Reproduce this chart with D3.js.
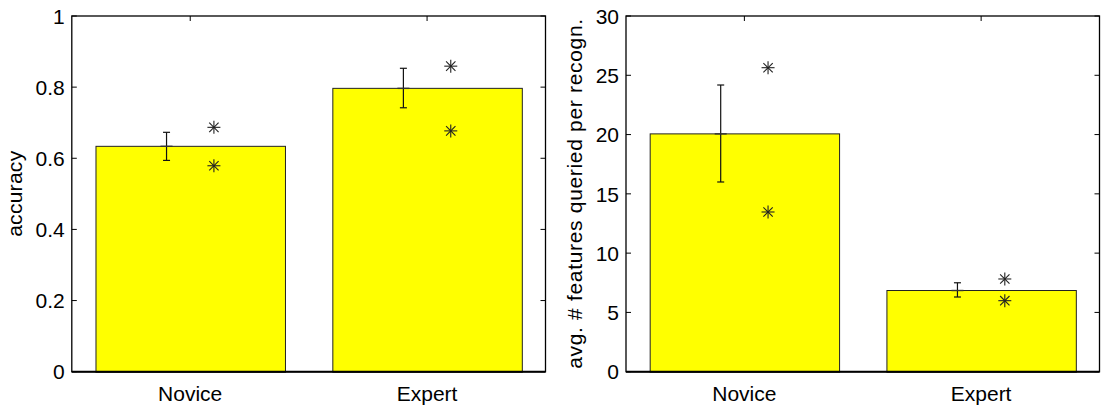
<!DOCTYPE html>
<html>
<head>
<meta charset="utf-8">
<script src="https://cdn.jsdelivr.net/npm/d3@7"></script>
<style>
html,body{margin:0;padding:0;background:#fff;}
svg{display:block;}
text{font-family:"Liberation Sans",Arial,Helvetica,sans-serif;fill:#000;}
</style>
</head>
<body>
<svg id="chart" width="1101" height="405"></svg>
<script>
// ---- data ----
const categories = ["Novice", "Expert"];

const accuracyMean    = [0.635, 0.798];
const accuracyErrLow  = [0.594, 0.742];
const accuracyErrHigh = [0.673, 0.853];
const accuracySubjA   = [0.687, 0.859];
const accuracySubjB   = [0.579, 0.677];
const accuracyTicks   = [0, 0.2, 0.4, 0.6, 0.8, 1];
const accuracyTickLabels = ["0", "0.2", "0.4", "0.6", "0.8", "1"];

const featuresMean    = [20.1, 6.89];
const featuresErrLow  = [16.0, 6.3];
const featuresErrHigh = [24.18, 7.5];
const featuresSubjA   = [25.64, 7.82];
const featuresSubjB   = [13.47, 5.99];
const featuresTicks   = [0, 5, 10, 15, 20, 25, 30];
const featuresTickLabels = ["0", "5", "10", "15", "20", "25", "30"];

// ---- drawing ----
const svg = d3.select("#chart");
const FONT = 21;

function panel(opt) {
  const g = svg.append("g");
  const x = d3.scaleLinear().domain([0.5, categories.length + 0.5]).range([opt.left, opt.right]);
  const y = d3.scaleLinear().domain(opt.yDomain).range([opt.bottom, opt.top]);
  const tickLen = 5;
  const unit = x(2) - x(1);

  // bottom x ticks (covered by bars)
  categories.forEach((c, i) => {
    g.append("line").attr("x1", x(i + 1)).attr("x2", x(i + 1))
      .attr("y1", opt.bottom).attr("y2", opt.bottom - tickLen)
      .attr("stroke", "#000").attr("stroke-width", 1);
  });

  // bars
  g.selectAll("rect.bar").data(opt.mean).enter().append("rect")
    .attr("class", "bar")
    .attr("x", (d, i) => x(i + 1 - 0.4) + 0.5)
    .attr("width", 0.8 * unit)
    .attr("y", d => y(d) + 0.5)
    .attr("height", d => y(0) - y(d))
    .attr("fill", "#ffff00")
    .attr("stroke", "#222")
    .attr("stroke-width", 1);

  // error bars
  opt.mean.forEach((m, i) => {
    const cx = x(i + 1 - 0.1);
    const lo = y(opt.errLow[i]), hi = y(opt.errHigh[i]), my = y(m);
    g.append("line").attr("x1", cx).attr("x2", cx).attr("y1", lo).attr("y2", hi)
      .attr("stroke", "#111").attr("stroke-width", 1.2);
    [lo, hi].forEach(v => g.append("line").attr("x1", cx - 3.5).attr("x2", cx + 3.5)
      .attr("y1", v).attr("y2", v).attr("stroke", "#111").attr("stroke-width", 1.2));
    g.append("line").attr("x1", cx - 6).attr("x2", cx + 6).attr("y1", my + 0.5).attr("y2", my + 0.5)
      .attr("stroke", "#333").attr("stroke-width", 1.4);
  });

  // asterisk markers
  const r = 6.5;
  function star(px, py) {
    const s = g.append("g").attr("transform", `translate(${px},${py})`);
    s.append("line").attr("x1", 0).attr("x2", 0).attr("y1", -r).attr("y2", r);
    s.append("line").attr("x1", -r).attr("x2", r).attr("y1", 0).attr("y2", 0);
    const d = r * 0.72;
    s.append("line").attr("x1", -d).attr("x2", d).attr("y1", -d).attr("y2", d);
    s.append("line").attr("x1", -d).attr("x2", d).attr("y1", d).attr("y2", -d);
    s.selectAll("line").attr("stroke", "#222").attr("stroke-width", 1.1);
  }
  opt.subjA.forEach((v, i) => star(x(i + 1 + 0.1), y(v)));
  opt.subjB.forEach((v, i) => star(x(i + 1 + 0.1), y(v)));

  // box
  g.append("rect").attr("x", opt.left).attr("y", opt.top)
    .attr("width", opt.right - opt.left).attr("height", opt.bottom - opt.top)
    .attr("fill", "none").attr("stroke", "#000").attr("stroke-width", 1.3);
  g.append("line").attr("x1", opt.left).attr("x2", opt.right)
    .attr("y1", opt.bottom).attr("y2", opt.bottom).attr("stroke", "#000").attr("stroke-width", 2);

  // y ticks both sides
  opt.ticks.forEach((t, i) => {
    const ty = y(t);
    g.append("line").attr("x1", opt.left).attr("x2", opt.left + tickLen).attr("y1", ty).attr("y2", ty)
      .attr("stroke", "#000").attr("stroke-width", 1);
    g.append("line").attr("x1", opt.right).attr("x2", opt.right - tickLen).attr("y1", ty).attr("y2", ty)
      .attr("stroke", "#000").attr("stroke-width", 1);
    g.append("text").attr("x", opt.left - 7).attr("y", ty).attr("dy", "0.37em")
      .attr("text-anchor", "end").attr("font-size", FONT).text(opt.tickLabels[i]);
  });
  // top x ticks + category labels
  categories.forEach((c, i) => {
    g.append("line").attr("x1", x(i + 1)).attr("x2", x(i + 1))
      .attr("y1", opt.top).attr("y2", opt.top + tickLen)
      .attr("stroke", "#000").attr("stroke-width", 1);
    g.append("text").attr("x", x(i + 1)).attr("y", opt.bottom + 29)
      .attr("text-anchor", "middle").attr("font-size", FONT).text(c);
  });

  // y label
  const cy = (opt.top + opt.bottom) / 2;
  g.append("text").attr("transform", `translate(${opt.labelX},${cy}) rotate(-90)`)
    .attr("text-anchor", "middle").attr("font-size", FONT)
    .attr("textLength", opt.labelLen).attr("lengthAdjust", "spacing")
    .text(opt.label);
}

panel({
  left: 71.8, right: 545.5, top: 16, bottom: 371.7,
  yDomain: [0, 1], mean: accuracyMean, errLow: accuracyErrLow, errHigh: accuracyErrHigh,
  subjA: accuracySubjA, subjB: accuracySubjB, ticks: accuracyTicks, tickLabels: accuracyTickLabels,
  label: "accuracy", labelX: 22, labelLen: 86
});
panel({
  left: 626, right: 1099.5, top: 16, bottom: 371.7,
  yDomain: [0, 30], mean: featuresMean, errLow: featuresErrLow, errHigh: featuresErrHigh,
  subjA: featuresSubjA, subjB: featuresSubjB, ticks: featuresTicks, tickLabels: featuresTickLabels,
  label: "avg. # features queried per recogn.", labelX: 582, labelLen: 350
});
</script>
</body>
</html>
